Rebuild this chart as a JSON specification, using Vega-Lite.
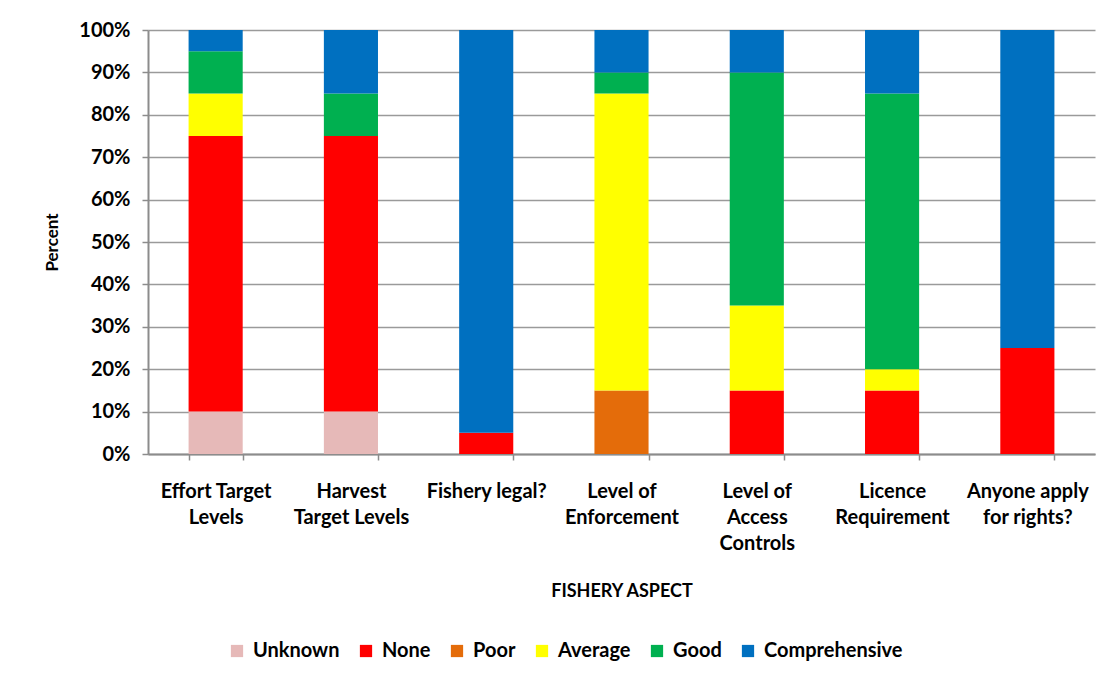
{
  "$schema": "https://vega.github.io/schema/vega-lite/v6.json",
  "width": 947,
  "height": 424,
  "autosize": {"type": "none"},
  "padding": {"left": 148, "top": 30, "right": 21, "bottom": 225},
  "background": "white",
  "config": {
    "font": "Lato",
    "view": {"stroke": null},
    "axis": {"labelFont": "Lato", "titleFont": "Lato", "labelColor": "black", "titleColor": "black"}
  },
  "data": {
    "values": [
      {"aspect": "Effort Target Levels", "rating": "Unknown", "percent": 10},
      {"aspect": "Effort Target Levels", "rating": "None", "percent": 65},
      {"aspect": "Effort Target Levels", "rating": "Average", "percent": 10},
      {"aspect": "Effort Target Levels", "rating": "Good", "percent": 10},
      {"aspect": "Effort Target Levels", "rating": "Comprehensive", "percent": 5},
      {"aspect": "Harvest Target Levels", "rating": "Unknown", "percent": 10},
      {"aspect": "Harvest Target Levels", "rating": "None", "percent": 65},
      {"aspect": "Harvest Target Levels", "rating": "Good", "percent": 10},
      {"aspect": "Harvest Target Levels", "rating": "Comprehensive", "percent": 15},
      {"aspect": "Fishery legal?", "rating": "None", "percent": 5},
      {"aspect": "Fishery legal?", "rating": "Comprehensive", "percent": 95},
      {"aspect": "Level of Enforcement", "rating": "Poor", "percent": 15},
      {"aspect": "Level of Enforcement", "rating": "Average", "percent": 70},
      {"aspect": "Level of Enforcement", "rating": "Good", "percent": 5},
      {"aspect": "Level of Enforcement", "rating": "Comprehensive", "percent": 10},
      {"aspect": "Level of Access Controls", "rating": "None", "percent": 15},
      {"aspect": "Level of Access Controls", "rating": "Average", "percent": 20},
      {"aspect": "Level of Access Controls", "rating": "Good", "percent": 55},
      {"aspect": "Level of Access Controls", "rating": "Comprehensive", "percent": 10},
      {"aspect": "Licence Requirement", "rating": "None", "percent": 15},
      {"aspect": "Licence Requirement", "rating": "Average", "percent": 5},
      {"aspect": "Licence Requirement", "rating": "Good", "percent": 65},
      {"aspect": "Licence Requirement", "rating": "Comprehensive", "percent": 15},
      {"aspect": "Anyone apply for rights?", "rating": "None", "percent": 25},
      {"aspect": "Anyone apply for rights?", "rating": "Comprehensive", "percent": 75}
    ]
  },
  "transform": [
    {"calculate": "indexof(['Unknown', 'None', 'Poor', 'Average', 'Good', 'Comprehensive'], datum.rating)", "as": "stackOrder"}
  ],
  "mark": {"type": "bar"},
  "encoding": {
    "x": {
      "field": "aspect",
      "type": "nominal",
      "sort": ["Effort Target Levels", "Harvest Target Levels", "Fishery legal?", "Level of Enforcement", "Level of Access Controls", "Licence Requirement", "Anyone apply for rights?"],
      "scale": {"paddingInner": 0.6, "paddingOuter": 0.3},
      "axis": {
        "title": "FISHERY ASPECT",
        "titleFontSize": 18,
        "titleFontWeight": "bold",
        "titlePadding": 29,
        "labelAngle": 0,
        "labelFontSize": 20,
        "labelFontWeight": "bold",
        "labelPadding": 21,
        "labelLineHeight": 26,
        "labelBaseline": "top",
        "labelLimit": 200,
        "labelExpr": "datum.label == 'Effort Target Levels' ? ['Effort Target', 'Levels'] : datum.label == 'Harvest Target Levels' ? ['Harvest', 'Target Levels'] : datum.label == 'Level of Enforcement' ? ['Level of', 'Enforcement'] : datum.label == 'Level of Access Controls' ? ['Level of', 'Access', 'Controls'] : datum.label == 'Licence Requirement' ? ['Licence', 'Requirement'] : datum.label == 'Anyone apply for rights?' ? ['Anyone apply', 'for rights?'] : datum.label",
        "tickBand": "extent",
        "tickSize": 6,
        "tickColor": "#8c8c8c",
        "tickWidth": 1.5,
        "domainColor": "#8c8c8c",
        "domainWidth": 2,
        "grid": false
      }
    },
    "y": {
      "field": "percent",
      "type": "quantitative",
      "stack": "zero",
      "scale": {"domain": [0, 100], "nice": false},
      "axis": {
        "title": "Percent",
        "titleFontSize": 17,
        "titleFontWeight": "bold",
        "titlePadding": 17,
        "values": [0, 10, 20, 30, 40, 50, 60, 70, 80, 90, 100],
        "labelExpr": "datum.value + '%'",
        "labelFontSize": 20,
        "labelFontWeight": "bold",
        "labelPadding": 12,
        "tickSize": 6,
        "tickColor": "#8c8c8c",
        "tickWidth": 1.5,
        "domainColor": "#8c8c8c",
        "domainWidth": 2,
        "grid": true,
        "gridColor": "#9a9a9a",
        "gridWidth": 1.5
      }
    },
    "order": {"field": "stackOrder", "type": "quantitative", "sort": "ascending"},
    "color": {
      "field": "rating",
      "type": "nominal",
      "scale": {
        "domain": ["Unknown", "None", "Poor", "Average", "Good", "Comprehensive"],
        "range": ["#E6B9B8", "#FF0000", "#E46C0A", "#FFFF00", "#00B050", "#0070C0"]
      },
      "legend": {
        "title": null,
        "orient": "none",
        "direction": "horizontal",
        "legendX": 79,
        "legendY": 611,
        "symbolType": "square",
        "symbolSize": 150,
        "symbolStrokeWidth": 0,
        "labelFontSize": 20,
        "labelFontWeight": "bold",
        "labelColor": "black",
        "labelFont": "Lato",
        "labelOffset": 6,
        "columnPadding": 16,
        "padding": 0
      }
    }
  }
}
